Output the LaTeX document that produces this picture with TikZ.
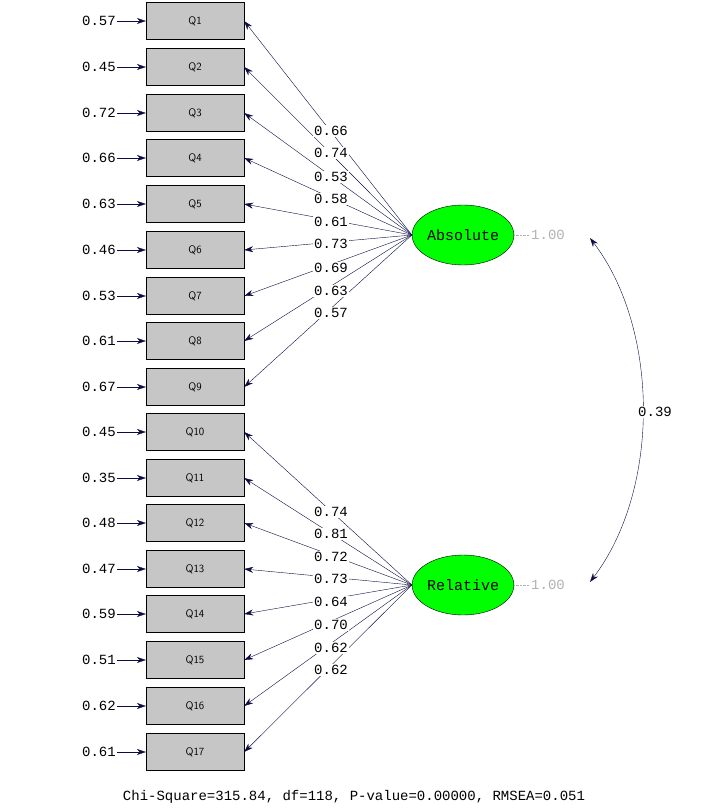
\documentclass[tikz,border=0pt]{standalone}
\usepackage{fontspec}
\setmainfont{Liberation Mono}
\usetikzlibrary{arrows.meta,shapes.geometric}
\definecolor{tipblue}{RGB}{20,20,110}
\tikzset{
  item/.style={draw, fill=gray!45, minimum width=98pt, minimum height=37pt, font=\fontsize{11}{11}\selectfont\sffamily},
  latent/.style={draw, ellipse, fill=green, minimum width=98pt, minimum height=60pt, inner sep=0pt, font=\fontsize{15}{15}\selectfont},
  load/.style={fill=white, inner sep=1pt, font=\fontsize{14}{14}\selectfont},
  err/.style={anchor=east, inner sep=1pt, font=\fontsize{14}{14}\selectfont},
  link/.style={-{Stealth[length=9pt,width=6pt]}, tipblue!60!black},
}
\begin{document}
\begin{tikzpicture}[x=1pt,y=-1pt]
\useasboundingbox (0,0) rectangle (709,810);
% indicators
\foreach \i/\y/\e in {1/21/0.57,2/67/0.45,3/113/0.72,4/158/0.66,5/204/0.63,6/250/0.46,
  7/296/0.53,8/341/0.61,9/387/0.67,10/432/0.45,11/478/0.35,12/523/0.48,13/569/0.47,
  14/614/0.59,15/660/0.51,16/706/0.62,17/752/0.61}{
  \node[item] (q\i) at (195,\y) {Q\i};
  \coordinate (e\i) at (117,\y);
  \node[err] at (e\i) {\e};
  \draw[link] (e\i) -- (q\i.west);
}
% factors
\node[latent] (abs) at (463,235) {Absolute};
\node[latent] (rel) at (463,585) {Relative};
\foreach \i in {1,...,9}{
  \draw[link] (abs.west) -- (q\i.east);
}
\foreach \l/\y in {0.66/131,0.74/153,0.53/177,0.58/199,0.61/222,0.73/244,0.69/268,0.63/291,0.57/313}{
  \node[load] at (331,\y) {\l};
}
\foreach \i in {10,...,17}{
  \draw[link] (rel.west) -- (q\i.east);
}
\foreach \l/\y in {0.74/512,0.81/534,0.72/557,0.73/579,0.64/602,0.70/625,0.62/648,0.62/670}{
  \node[load] at (331,\y) {\l};
}
% variances and covariance
\draw[gray!60, densely dotted] (abs.east) -- (530,235) node[load, anchor=west] (va) {1.00};
\draw[gray!60, densely dotted] (rel.east) -- (530,585) node[load, anchor=west] (vr) {1.00};
\coordinate (ca) at (590,238);
\coordinate (cr) at (590,582);
\draw[{Stealth[length=9pt,width=6pt]}-{Stealth[length=9pt,width=6pt]}, tipblue!60!black]
  (ca) .. controls (660,330) and (660,490) .. (cr);
\node[load] (cov) at (655,412) {0.39};
\node[font=\fontsize{14}{14}\selectfont] (fit) at (354,797) {Chi-Square=315.84, df=118, P-value=0.00000, RMSEA=0.051};
\end{tikzpicture}
\end{document}
